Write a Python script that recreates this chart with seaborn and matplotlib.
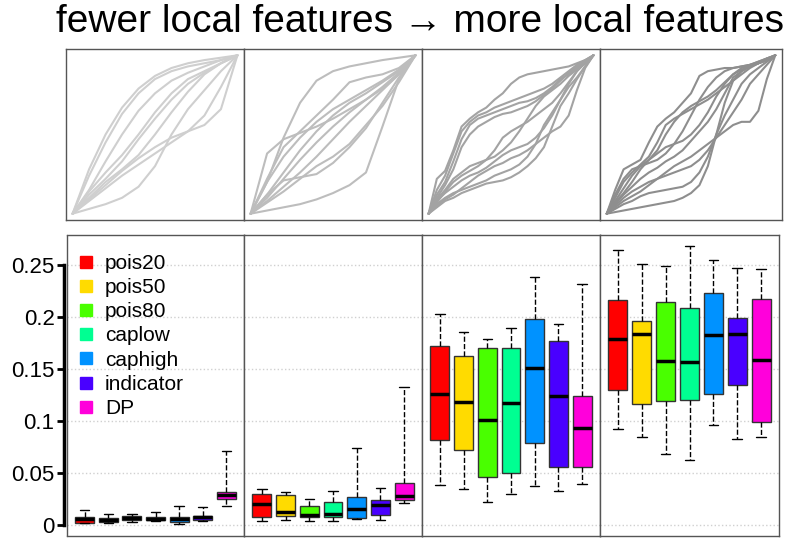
# plot.py
# Boxplots de erro por metodo (4 niveis de caracteristicas locais) com curvas de warping acima.

import pandas as pd
import matplotlib
matplotlib.use("Agg")
import matplotlib.pyplot as plt
from matplotlib.lines import Line2D
import seaborn as sns

# --- Dados --- #
methods = ["pois20", "pois50", "pois80", "caplow", "caphigh", "indicator", "DP"]
colors = ["#FF0000", "#FFDB00", "#49FF00", "#00FF92", "#0092FF", "#4900FF", "#FF00DB"]

# cinco numeros por metodo e por painel (bigode inf, q1, mediana, q3, bigode sup)
whisker_low = [
    [0.0015, 0.002, 0.0025, 0.004, 0.001, 0.0035, 0.018],
    [0.004, 0.005, 0.0035, 0.004, 0.0055, 0.005, 0.021],
    [0.038, 0.035, 0.022, 0.030, 0.037, 0.033, 0.039],
    [0.092, 0.085, 0.068, 0.062, 0.096, 0.083, 0.085],
]
quart_low = [
    [0.002, 0.0025, 0.005, 0.005, 0.003, 0.0045, 0.025],
    [0.008, 0.009, 0.008, 0.008, 0.007, 0.010, 0.024],
    [0.082, 0.072, 0.046, 0.050, 0.079, 0.056, 0.056],
    [0.130, 0.116, 0.119, 0.120, 0.126, 0.135, 0.099],
]
medians = [
    [0.0055, 0.005, 0.007, 0.006, 0.006, 0.0075, 0.029],
    [0.020, 0.012, 0.010, 0.011, 0.015, 0.019, 0.028],
    [0.126, 0.118, 0.101, 0.117, 0.151, 0.124, 0.093],
    [0.179, 0.184, 0.158, 0.157, 0.183, 0.184, 0.159],
]
quart_high = [
    [0.008, 0.0065, 0.0085, 0.0075, 0.008, 0.009, 0.032],
    [0.030, 0.029, 0.018, 0.022, 0.027, 0.024, 0.040],
    [0.172, 0.162, 0.170, 0.170, 0.198, 0.177, 0.124],
    [0.216, 0.196, 0.214, 0.209, 0.223, 0.199, 0.217],
]
whisker_high = [
    [0.0145, 0.011, 0.011, 0.0125, 0.018, 0.017, 0.0715],
    [0.035, 0.032, 0.025, 0.033, 0.074, 0.036, 0.133],
    [0.203, 0.186, 0.179, 0.189, 0.238, 0.193, 0.232],
    [0.264, 0.251, 0.249, 0.268, 0.255, 0.247, 0.246],
]

y_ticks = [0, 0.05, 0.1, 0.15, 0.2, 0.25]
y_tick_labels = ["0", "0.05", "0.1", "0.15", "0.2", "0.25"]

# curvas de warping
grid_coarse = [0, 0.1, 0.2, 0.3, 0.4, 0.5, 0.6, 0.7, 0.8, 0.9, 1]
grid_fine = [0, 0.05, 0.1, 0.15, 0.2, 0.25, 0.3, 0.35, 0.4, 0.45, 0.5,
             0.55, 0.6, 0.65, 0.7, 0.75, 0.8, 0.85, 0.9, 0.95, 1]

curves_1 = [
    [0, 0.28, 0.50, 0.67, 0.79, 0.87, 0.92, 0.95, 0.97, 0.985, 1],
    [0, 0.24, 0.45, 0.63, 0.76, 0.85, 0.90, 0.93, 0.95, 0.97, 1],
    [0, 0.15, 0.33, 0.50, 0.65, 0.76, 0.84, 0.89, 0.93, 0.97, 1],
    [0, 0.12, 0.22, 0.33, 0.47, 0.60, 0.72, 0.82, 0.89, 0.95, 1],
    [0, 0.10, 0.20, 0.28, 0.37, 0.50, 0.64, 0.77, 0.88, 0.95, 1],
    [0, 0.09, 0.18, 0.27, 0.35, 0.42, 0.48, 0.52, 0.56, 0.66, 1],
    [0, 0.08, 0.16, 0.24, 0.31, 0.38, 0.45, 0.52, 0.62, 0.80, 1],
    [0, 0.03, 0.06, 0.10, 0.17, 0.30, 0.50, 0.66, 0.78, 0.90, 1],
    [0, 0.14, 0.26, 0.37, 0.50, 0.64, 0.76, 0.85, 0.90, 0.95, 1],
]
curves_2 = [
    [0, 0.20, 0.48, 0.70, 0.84, 0.90, 0.93, 0.95, 0.97, 0.985, 1],
    [0, 0.02, 0.04, 0.06, 0.09, 0.13, 0.18, 0.26, 0.55, 0.85, 1],
    [0, 0.38, 0.47, 0.51, 0.55, 0.60, 0.66, 0.72, 0.79, 0.88, 1],
    [0, 0.12, 0.21, 0.23, 0.25, 0.32, 0.42, 0.54, 0.70, 0.86, 1],
    [0, 0.20, 0.36, 0.48, 0.58, 0.66, 0.72, 0.78, 0.84, 0.91, 1],
    [0, 0.12, 0.26, 0.40, 0.52, 0.62, 0.70, 0.76, 0.83, 0.90, 1],
    [0, 0.10, 0.22, 0.34, 0.45, 0.55, 0.64, 0.72, 0.80, 0.89, 1],
    [0, 0.08, 0.17, 0.26, 0.36, 0.47, 0.58, 0.68, 0.78, 0.88, 1],
    [0, 0.07, 0.14, 0.22, 0.30, 0.36, 0.44, 0.56, 0.68, 0.83, 1],
    [0, 0.22, 0.42, 0.52, 0.62, 0.72, 0.83, 0.86, 0.88, 0.92, 1],
]
curves_3 = [
    [0, .22, .27, .40, .55, .60, .64, .67, .72, .76, .82, .86, .88, .89, .90, .91, .92, .93, .95, .97, 1],
    [0, .15, .24, .38, .52, .58, .62, .64, .67, .69, .71, .73, .75, .77, .79, .82, .86, .90, .94, .97, 1],
    [0, .12, .20, .33, .47, .56, .60, .62, .64, .66, .68, .70, .71, .73, .76, .80, .85, .88, .92, .96, 1],
    [0, .10, .18, .28, .42, .50, .55, .58, .61, .63, .64, .66, .68, .71, .75, .79, .84, .89, .93, .96, 1],
    [0, .04, .08, .10, .13, .15, .17, .19, .20, .21, .23, .26, .30, .35, .42, .55, .68, .76, .85, .93, 1],
    [0, .06, .10, .13, .15, .17, .19, .21, .24, .26, .28, .31, .36, .44, .56, .64, .72, .80, .86, .93, 1],
    [0, .08, .13, .17, .21, .24, .26, .29, .33, .37, .40, .42, .44, .48, .54, .62, .72, .82, .90, .96, 1],
    [0, .07, .14, .20, .24, .27, .30, .34, .40, .48, .52, .55, .58, .62, .66, .70, .76, .83, .90, .95, 1],
    [0, .05, .09, .12, .16, .20, .24, .27, .30, .32, .35, .37, .40, .44, .48, .52, .55, .62, .78, .92, 1],
    [0, .09, .15, .22, .26, .30, .32, .34, .36, .40, .45, .52, .60, .68, .74, .78, .82, .87, .91, .95, 1],
]
curves_4 = [
    [0, .15, .28, .31, .34, .45, .55, .60, .64, .70, .76, .87, .90, .91, .92, .92, .93, .94, .95, .97, 1],
    [0, .10, .20, .26, .31, .36, .45, .56, .60, .63, .66, .69, .72, .76, .80, .84, .88, .92, .95, .98, 1],
    [0, .08, .16, .24, .30, .34, .40, .50, .58, .64, .68, .71, .74, .78, .83, .88, .91, .93, .95, .97, 1],
    [0, .01, .02, .03, .04, .05, .06, .07, .08, .10, .13, .18, .30, .50, .62, .72, .82, .88, .92, .96, 1],
    [0, .03, .06, .08, .11, .13, .14, .15, .16, .17, .20, .26, .36, .50, .70, .84, .90, .93, .95, .97, 1],
    [0, .05, .10, .14, .17, .20, .22, .24, .26, .28, .30, .34, .40, .48, .56, .64, .72, .82, .88, .94, 1],
    [0, .04, .08, .11, .14, .18, .22, .26, .30, .33, .36, .40, .44, .48, .52, .56, .58, .58, .65, .85, 1],
    [0, .06, .12, .17, .22, .26, .29, .33, .36, .40, .46, .52, .58, .66, .76, .86, .90, .93, .95, .97, 1],
    [0, .07, .13, .20, .28, .34, .38, .42, .44, .46, .50, .56, .64, .74, .82, .88, .92, .94, .96, .98, 1],
    [0, .12, .22, .28, .30, .32, .34, .38, .44, .52, .62, .72, .80, .86, .90, .92, .93, .94, .96, .98, 1],
]
curve_sets = [(grid_coarse, curves_1), (grid_coarse, curves_2),
              (grid_fine, curves_3), (grid_fine, curves_4)]
curve_colors = ["#CFCFCF", "#BDBDBD", "#A3A3A3", "#8E8E8E"]

# --- Layout (pixels) --- #
W, H = 786, 538
top_edges = [66, 244, 422, 600, 782]
bottom_edges = [67, 244, 422, 600, 779]

sns.set_theme(style="white")
plt.rcParams["font.family"] = ["Liberation Sans", "DejaVu Sans"]

fig = plt.figure(figsize=(W / 100, H / 100), dpi=100)


def px_axes(x0, y0, x1, y1):
    return fig.add_axes([x0 / W, 1 - y1 / H, (x1 - x0) / W, (y1 - y0) / H])


def style_spines(ax, color="#555555"):
    for s in ax.spines.values():
        s.set_color(color)
        s.set_linewidth(1)


# --- Curvas --- #
for i, (grid, curves) in enumerate(curve_sets):
    ax = px_axes(top_edges[i], 49, top_edges[i + 1], 220)
    rows = []
    for k, c in enumerate(curves):
        for t, g in zip(grid, c):
            rows.append({"curve": k, "t": t, "g": g})
    df_c = pd.DataFrame(rows)
    sns.lineplot(data=df_c, x="t", y="g", units="curve", estimator=None,
                 color=curve_colors[i], linewidth=1.5, ax=ax)
    ax.set_xlim(-0.04, 1.04)
    ax.set_ylim(-0.04, 1.04)
    ax.set_xticks([])
    ax.set_yticks([])
    ax.set(xlabel="", ylabel="")
    style_spines(ax)

# --- Boxplots --- #
for i in range(4):
    ax = px_axes(bottom_edges[i], 235, bottom_edges[i + 1], 536)
    rows = []
    for j, m in enumerate(methods):
        for v in [whisker_low[i][j], quart_low[i][j], medians[i][j],
                  quart_high[i][j], whisker_high[i][j]]:
            rows.append({"method": m, "value": v})
    df_b = pd.DataFrame(rows)
    sns.boxplot(data=df_b, x="method", y="value", hue="method", order=methods,
                hue_order=methods, palette=colors, saturation=1, whis=(0, 100),
                width=0.8, showfliers=False, legend=False, linecolor="#333333",
                linewidth=1,
                medianprops=dict(color="black", linewidth=2.5),
                whiskerprops=dict(color="black", linestyle="--", linewidth=1),
                capprops=dict(color="black", linewidth=1),
                ax=ax)
    ax.set_xlim(-0.75, 6.75)
    ax.set_ylim(-0.0106, 0.2788)
    ax.set_xticks([])
    ax.set(xlabel="", ylabel="")
    ax.set_yticks(y_ticks)
    ax.yaxis.grid(True, linestyle=":", color="#d0d0d0", linewidth=1)
    ax.set_axisbelow(True)
    style_spines(ax)
    if i == 0:
        ax.set_yticklabels(y_tick_labels)
        ax.spines["left"].set_bounds(0, 0.25)
        ax.spines["left"].set_position(("outward", 2))
        ax.spines["left"].set_color("black")
        ax.spines["left"].set_linewidth(2.5)
        ax.tick_params(axis="y", left=True, length=5, width=2, pad=2,
                       labelsize=16, colors="black")
        ax.plot([0, 0], [0, 1], transform=ax.transAxes, color="#555555",
                linewidth=1, clip_on=False)
        handles = [Line2D([], [], marker="s", linestyle="", markersize=8,
                          markerfacecolor=c, markeredgecolor=c) for c in colors]
        ax.legend(handles, methods, loc="upper left", bbox_to_anchor=(0.008, 0.965),
                  frameon=False, fontsize=15, handlelength=0.9, handletextpad=0.45,
                  labelspacing=0.25, borderaxespad=0, labelcolor="black")
    else:
        ax.tick_params(axis="y", left=False, labelleft=False)

fig.text(420 / W, 1 - 4 / H, "fewer local features \u2192 more local features",
         ha="center", va="top", fontsize=28, color="black")

fig.savefig("out.png", dpi=100)
